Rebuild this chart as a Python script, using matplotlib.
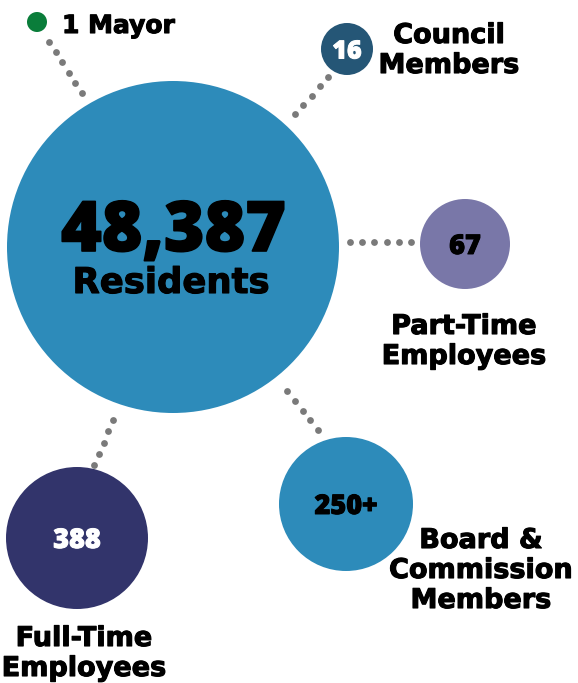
import numpy as np
import matplotlib.pyplot as plt
import matplotlib.patheffects as pe
from matplotlib.patches import Circle

# datos de la infografia
cifras = ['48,387', '1', '16', '67', '250+', '388']
etiquetas = ['Residents', 'Mayor', 'Council\nMembers', 'Part-Time\nEmployees',
             'Board &\nCommission\nMembers', 'Full-Time\nEmployees']

# disposicion (pixeles, origen arriba a la izquierda)
centros = [(173, 247), (37, 22), (347, 49), (465, 244), (346, 504), (77, 538)]
radios = [166, 10, 26, 45, 67, 71]
colores = ['#2d8bba', '#0a7d3a', '#255676', '#7977a8', '#2d8bba', '#32346b']
color_cifra = ['black', None, 'white', 'black', 'black', 'white']
tam_cifra = [50, None, 18, 19.5, 19.5, 19.5]
# etiqueta: x central, primera linea base
pos_etiqueta = [(171, 293), (62, 33), (449, 43), (464, 334), (481, 548), (84, 646)]
sep = 30

# lineas punteadas: inicio, fin, numero de puntos
conectores = [((49, 42), (82, 93), 6),
              ((328, 77), (295, 114), 5),
              ((350, 242), (411, 242), 6),
              ((287, 391), (318, 430), 5),
              ((113, 420), (94, 465), 5)]

fig = plt.figure(figsize=(5.78, 6.83), dpi=100)
ax = fig.add_axes([0, 0, 1, 1])
ax.set_xlim(0, 578)
ax.set_ylim(683, 0)
ax.set_aspect('equal')
ax.axis('off')

for (p0, p1, n) in conectores:
    xs = np.linspace(p0[0], p1[0], n)
    ys = np.linspace(p0[1], p1[1], n)
    ax.scatter(xs, ys, s=24, color='#7a7a7a', linewidths=0, zorder=1)

for i in range(len(cifras)):
    cx, cy = centros[i]
    ax.add_patch(Circle((cx, cy), radios[i], color=colores[i], zorder=2, linewidth=0))
    if color_cifra[i] is not None and i > 0:
        ax.text(cx, cy, cifras[i], ha='center', va='center_baseline',
                fontsize=tam_cifra[i], color=color_cifra[i], fontweight='heavy',
                family=['Open Sans', 'DejaVu Sans'], zorder=3,
                path_effects=[pe.withStroke(linewidth=0.7, foreground=color_cifra[i])])

# numero grande de residentes
ax.text(173.5, 251, cifras[0], ha='center', va='baseline', fontsize=tam_cifra[0],
        color='black', fontweight='heavy', family=['Open Sans', 'DejaVu Sans'], zorder=3,
        path_effects=[pe.withStroke(linewidth=1.2, foreground='black')])

fuente = dict(family='DejaVu Sans', fontweight='bold', color='black', zorder=3,
              path_effects=[pe.withStroke(linewidth=0.8, foreground='black')])

# residentes
ax.text(pos_etiqueta[0][0], pos_etiqueta[0][1], etiquetas[0], ha='center',
        va='baseline', fontsize=25.5, **fuente)
# alcalde
ax.text(pos_etiqueta[1][0], pos_etiqueta[1][1], cifras[1] + ' ' + etiquetas[1],
        ha='left', va='baseline', fontsize=18, **fuente)

for i in range(2, len(etiquetas)):
    x, y = pos_etiqueta[i]
    for j, linea in enumerate(etiquetas[i].split('\n')):
        ax.text(x, y + j * sep, linea, ha='center', va='baseline',
                fontsize=19.5, **fuente)

fig.savefig('out.png', dpi=100)
